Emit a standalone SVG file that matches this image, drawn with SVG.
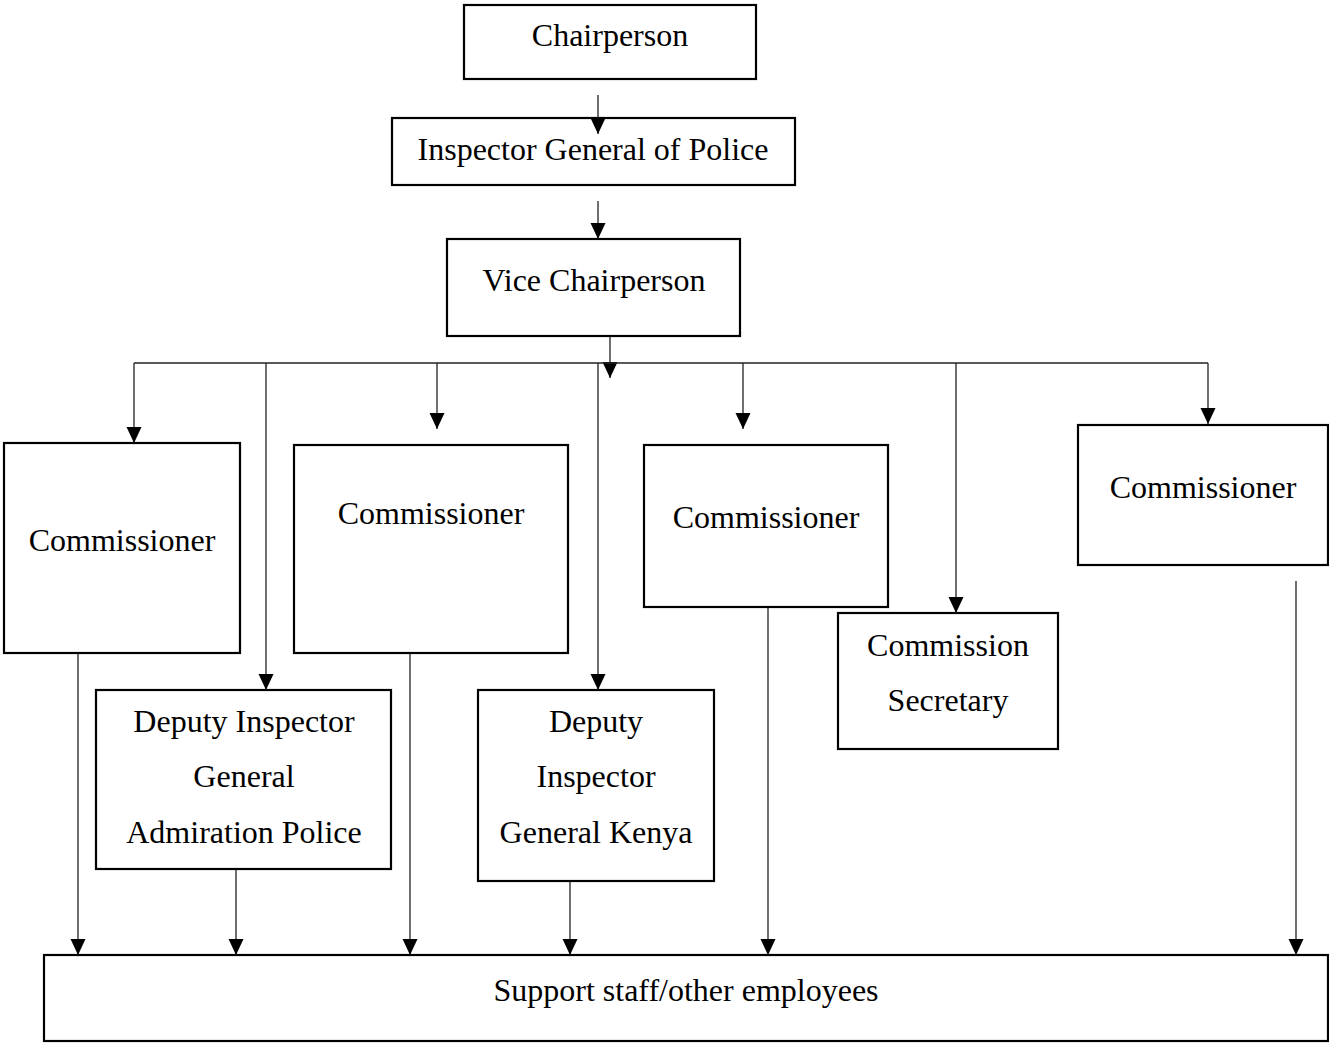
<svg xmlns="http://www.w3.org/2000/svg" width="1329" height="1043" viewBox="0 0 1329 1043">
<defs>
<marker id="ah" markerUnits="userSpaceOnUse" markerWidth="16" markerHeight="16" refX="16" refY="7.5" orient="auto">
<path d="M0,0 L16,7.5 L0,15 z" fill="#000"/>
</marker>
<style>
.box{fill:#fff;stroke:#000;stroke-width:2.2}
.t{font-family:"Liberation Serif","Times New Roman",serif;font-size:32px;fill:#000;text-anchor:middle}
.c{fill:none;stroke:#222;stroke-width:1.3}
.a{marker-end:url(#ah)}
</style>
</defs>
<rect width="1329" height="1043" fill="#fff"/>
<g id="chairperson"><rect class="box" x="464" y="5" width="292" height="74"/><text class="t" x="610" y="46">Chairperson</text></g>
<g id="igp"><rect class="box" x="392" y="118" width="403" height="67"/><text class="t" x="593" y="160">Inspector General of Police</text></g>
<g id="vice"><rect class="box" x="447" y="239" width="293" height="97"/><text class="t" x="594" y="291">Vice Chairperson</text></g>
<g id="commissioner1"><rect class="box" x="4" y="443" width="236" height="210"/><text class="t" x="122" y="551">Commissioner</text></g>
<g id="commissioner2"><rect class="box" x="294" y="445" width="274" height="208"/><text class="t" x="431" y="524">Commissioner</text></g>
<g id="commissioner3"><rect class="box" x="644" y="445" width="244" height="162"/><text class="t" x="766" y="528">Commissioner</text></g>
<g id="commissioner4"><rect class="box" x="1078" y="425" width="250" height="140"/><text class="t" x="1203" y="498">Commissioner</text></g>
<g id="dig-admin"><rect class="box" x="96" y="690" width="295" height="179"/>
<text class="t" x="244" y="732">Deputy Inspector</text><text class="t" x="244" y="787">General</text><text class="t" x="244" y="843">Admiration Police</text></g>
<g id="dig-kenya"><rect class="box" x="478" y="690" width="236" height="191"/>
<text class="t" x="596" y="732">Deputy</text><text class="t" x="596" y="787">Inspector</text><text class="t" x="596" y="843">General Kenya</text></g>
<g id="secretary"><rect class="box" x="838" y="613" width="220" height="136"/>
<text class="t" x="948" y="656">Commission</text><text class="t" x="948" y="711">Secretary</text></g>
<g id="support"><rect class="box" x="44" y="955" width="1284" height="86"/><text class="t" x="686" y="1001">Support staff/other employees</text></g>
<g id="connectors">
<line class="c a" x1="598" y1="95" x2="598" y2="134"/>
<line class="c a" x1="598" y1="201" x2="598" y2="239"/>
<line class="c a" x1="610" y1="337" x2="610" y2="378"/>
<line class="c" x1="134" y1="363" x2="1208" y2="363"/>
<line class="c a" x1="134" y1="363" x2="134" y2="443"/>
<line class="c a" x1="266" y1="363" x2="266" y2="690"/>
<line class="c a" x1="437" y1="363" x2="437" y2="429"/>
<line class="c a" x1="598" y1="363" x2="598" y2="690"/>
<line class="c a" x1="743" y1="363" x2="743" y2="429"/>
<line class="c a" x1="956" y1="363" x2="956" y2="613"/>
<line class="c a" x1="1208" y1="363" x2="1208" y2="424"/>
<line class="c a" x1="78" y1="654" x2="78" y2="955"/>
<line class="c a" x1="236" y1="870" x2="236" y2="955"/>
<line class="c a" x1="410" y1="654" x2="410" y2="955"/>
<line class="c a" x1="570" y1="882" x2="570" y2="955"/>
<line class="c a" x1="768" y1="608" x2="768" y2="955"/>
<line class="c a" x1="1296" y1="581" x2="1296" y2="955"/>
</g>
</svg>
